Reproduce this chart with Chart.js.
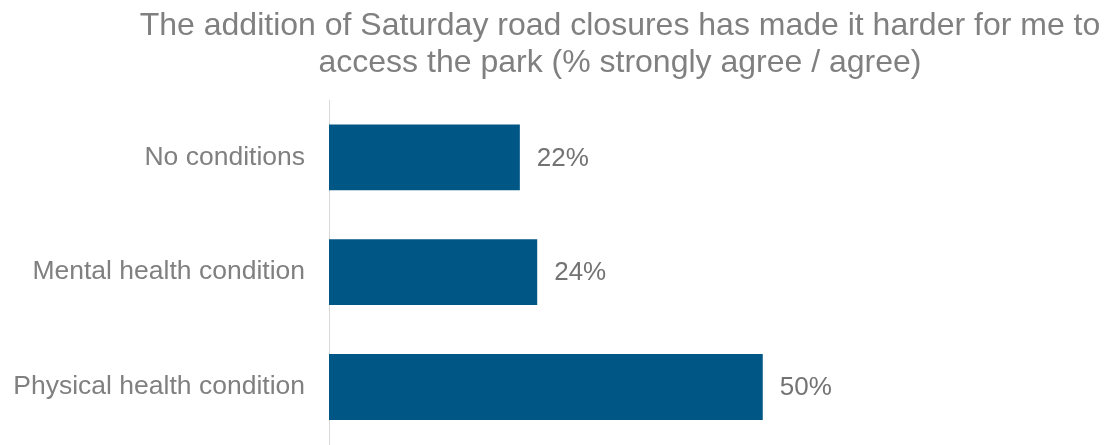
<!DOCTYPE html>
<html>
<head>
<meta charset="utf-8">
<script src="https://cdn.jsdelivr.net/npm/chart.js@4/dist/chart.umd.min.js"></script>
<style>
  html, body { margin: 0; padding: 0; background: #fff; }
  canvas { display: block; }
</style>
</head>
<body>
<canvas id="closureChart" width="1104" height="445"></canvas>
<script>
// survey results: % strongly agree / agree
const groups = ['No conditions', 'Mental health condition', 'Physical health condition'];
const agreePct = [22, 24, 50];
const titleLines = [
    'The addition of Saturday road closures has made it harder for me to',
    'access the park (% strongly agree / agree)'
];

const FONT = '"Liberation Sans", Arial, sans-serif';

// two-line heading, centred a little right of the canvas middle
const heading = {
    id: 'heading',
    afterDraw(chart) {
        const ctx = chart.ctx;
        ctx.save();
        ctx.font = '32px ' + FONT;
        ctx.fillStyle = '#808080';
        ctx.textAlign = 'center';
        ctx.textBaseline = 'middle';
        titleLines.forEach(function (line, i) {
            ctx.fillText(line, 620, 26 + i * 37);
        });
        ctx.restore();
    }
};

// writes the percentage just past the end of each bar
const barValueLabels = {
    id: 'barValueLabels',
    afterDatasetsDraw(chart) {
        const ctx = chart.ctx;
        const meta = chart.getDatasetMeta(0);
        ctx.save();
        ctx.font = '26px ' + FONT;
        ctx.fillStyle = '#737373';
        ctx.textAlign = 'left';
        ctx.textBaseline = 'middle';
        meta.data.forEach(function (bar, i) {
            ctx.fillText(agreePct[i] + '%', bar.x + 17, bar.y + 1);
        });
        ctx.restore();
    }
};

Chart.defaults.font.family = FONT;
Chart.defaults.color = '#808080';

new Chart(document.getElementById('closureChart'), {
    type: 'bar',
    data: {
        labels: groups,
        datasets: [{
            data: agreePct,
            backgroundColor: '#005785',
            categoryPercentage: 1,
            barPercentage: 0.574
        }]
    },
    options: {
        indexAxis: 'y',
        responsive: false,
        animation: false,
        layout: { padding: { left: 0, right: 81, top: 100, bottom: 0 } },
        plugins: {
            legend: { display: false },
            tooltip: { enabled: false },
            title: { display: false }
        },
        scales: {
            x: {
                display: false,
                min: 0,
                max: 80
            },
            y: {
                afterFit(scale) { scale.width = 329; },
                // invisible tick marks give the gap between labels and axis
                grid: {
                    drawOnChartArea: false,
                    drawTicks: true,
                    tickLength: 24,
                    tickColor: 'rgba(0,0,0,0)'
                },
                border: { display: true, color: '#d9d9d9', width: 1 },
                ticks: {
                    padding: 0,
                    font: { size: 26.5, lineHeight: 0.05 },
                    color: '#808080'
                }
            }
        }
    },
    plugins: [heading, barValueLabels]
});
</script>
</body>
</html>
